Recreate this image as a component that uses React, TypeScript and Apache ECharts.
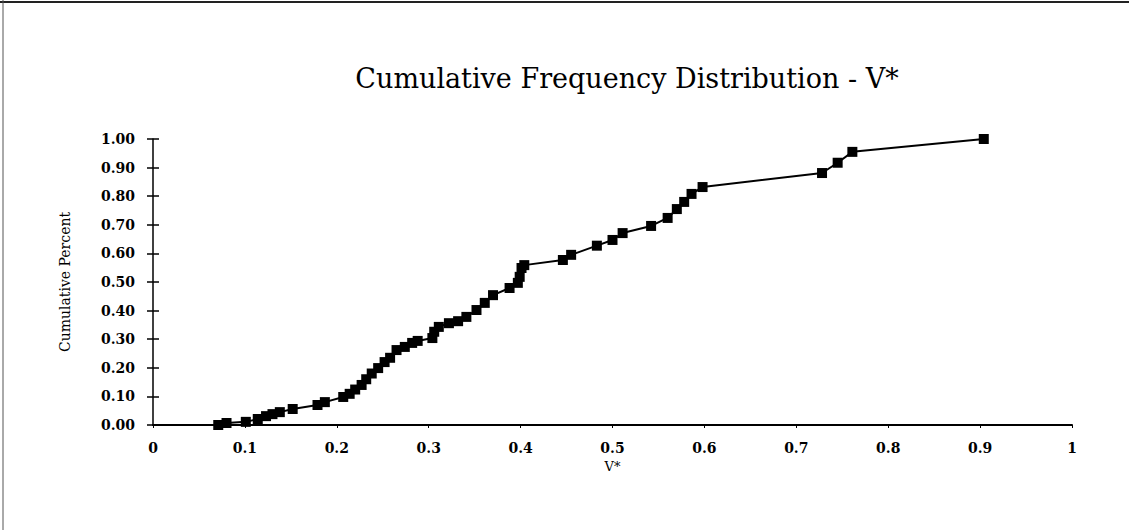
import React, { useEffect, useRef } from "react";
import * as echarts from "echarts";

const titleText = "Cumulative Frequency Distribution - V*";
const xAxisName = "V*";
const yAxisName = "Cumulative Percent";

// V* values
const vValues = [
  0.071, 0.08, 0.101, 0.114, 0.123, 0.13, 0.138, 0.152, 0.179, 0.187,
  0.207, 0.214, 0.22, 0.227, 0.232, 0.238, 0.245, 0.252, 0.258, 0.265,
  0.274, 0.282, 0.288, 0.304, 0.306, 0.311, 0.322, 0.332, 0.341, 0.352,
  0.361, 0.37, 0.388, 0.397, 0.399, 0.401, 0.404, 0.446, 0.455, 0.483,
  0.5, 0.511, 0.542, 0.56, 0.57, 0.578, 0.586, 0.598, 0.728, 0.745,
  0.761, 0.904,
];
// cumulative percent
const cumValues = [
  0.0, 0.007, 0.011, 0.021, 0.031, 0.038, 0.045, 0.056, 0.07, 0.08,
  0.098, 0.109, 0.124, 0.14, 0.16, 0.18, 0.199, 0.22, 0.235, 0.262,
  0.273, 0.287, 0.294, 0.304, 0.326, 0.343, 0.356, 0.363, 0.378, 0.402,
  0.427, 0.454, 0.479, 0.497, 0.518, 0.549, 0.559, 0.577, 0.595, 0.627,
  0.647, 0.671, 0.696, 0.724, 0.755, 0.78, 0.808, 0.832, 0.881, 0.917,
  0.955, 1.0,
];

const font = "'DejaVu Serif', 'Liberation Serif', serif";

export default function App() {
  const ref = useRef<HTMLDivElement>(null);
  useEffect(() => {
    if (!ref.current) return;
    const chart = echarts.init(ref.current, undefined, { renderer: "svg" });
    const data = vValues.map((v, i) => [v, cumValues[i]]);
    chart.setOption({
      animation: false,
      backgroundColor: "#ffffff",
      title: {
        text: titleText,
        left: 622,
        top: 60,
        textAlign: "center",
        textStyle: {
          fontFamily: font,
          fontSize: 27,
          fontWeight: "normal",
          color: "#000",
        },
      },
      grid: { left: 153, right: 57, top: 139, bottom: 105 },
      xAxis: {
        type: "value",
        min: 0,
        max: 1,
        interval: 0.1,
        name: xAxisName,
        nameLocation: "middle",
        nameGap: 32,
        nameTextStyle: { fontFamily: font, fontSize: 13, color: "#000" },
        axisLine: { lineStyle: { color: "#000", width: 2 } },
        axisTick: { show: true, length: 3, lineStyle: { color: "#000" } },
        axisLabel: {
          fontFamily: font,
          fontSize: 14,
          fontWeight: "bold",
          color: "#000",
          margin: 16,
          formatter: (v: number) => (v === 1 ? "1" : v === 0 ? "0" : String(Math.round(v * 10) / 10)),
        },
        splitLine: { show: false },
      },
      yAxis: [
        {
          type: "value",
          min: 0,
          max: 1,
          interval: 0.1,
          name: yAxisName,
          nameLocation: "middle",
          nameRotate: 90,
          nameGap: 81,
          nameTextStyle: { fontFamily: font, fontSize: 14, color: "#000" },
          axisLine: { show: true, lineStyle: { color: "#000", width: 1.5 } },
          axisTick: { show: true, length: 6, lineStyle: { color: "#000", width: 1.5 } },
          axisLabel: {
            fontFamily: font,
            fontSize: 14,
            fontWeight: "bold",
            color: "#000",
            margin: 18,
            formatter: (v: number) => v.toFixed(2),
          },
          splitLine: { show: false },
        },
        {
          type: "value",
          position: "left",
          min: 0,
          max: 1,
          interval: 0.1,
          axisLine: { show: false },
          axisTick: { show: true, inside: true, length: 6, lineStyle: { color: "#000", width: 1.5 } },
          axisLabel: { show: false },
          splitLine: { show: false },
        },
      ],
      series: [
        {
          type: "line",
          data,
          symbol: "rect",
          symbolSize: 10,
          itemStyle: { color: "#000" },
          lineStyle: { color: "#000", width: 2 },
        },
      ],
      graphic: [
        { type: "line", shape: { x1: 0, y1: 2, x2: 1129, y2: 2 }, style: { stroke: "#222", lineWidth: 2 } },
        { type: "line", shape: { x1: 3, y1: 0, x2: 3, y2: 530 }, style: { stroke: "#555", lineWidth: 1 } },
      ],
    });
    return () => chart.dispose();
  }, []);
  return (
    <div
      ref={ref}
      style={{ position: "fixed", left: 0, top: 0, width: 1129, height: 530 }}
    />
  );
}
